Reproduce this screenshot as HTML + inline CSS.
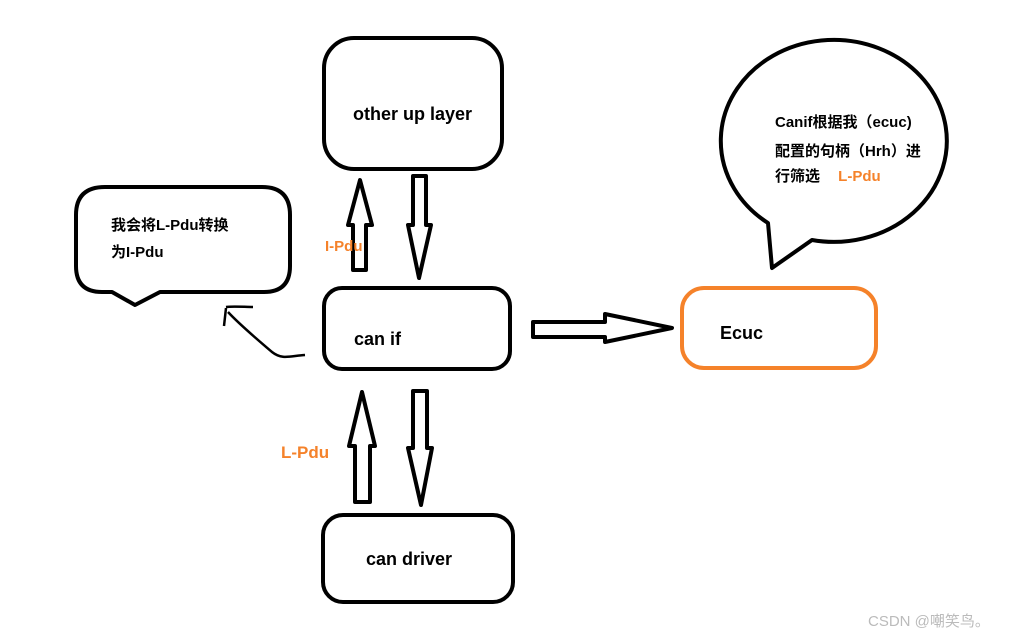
<!DOCTYPE html>
<html><head><meta charset="utf-8"><style>
html,body{margin:0;padding:0;background:#fff;width:1023px;height:637px;overflow:hidden}
svg{display:block}
text{font-family:"Liberation Sans","Noto Sans CJK SC",sans-serif;font-weight:bold}
</style></head><body>
<svg width="1023" height="637" viewBox="0 0 1023 637">
<g fill="none" stroke="#000" stroke-width="4" stroke-linejoin="round">
<rect x="324" y="38" width="178" height="131" rx="30"/>
<rect x="324" y="288" width="186" height="81" rx="18"/>
<rect x="323" y="515" width="190" height="87" rx="20"/>
<path d="M105,187 H262 Q290,187 290,215 V266 Q290,292 264,292 H160 L135,305 L112,292 H102 Q76,292 76,266 V215 Q76,187 105,187 Z"/>
<path d="M768,223 A113,101 0 1 1 812,240 L772,268 Z" fill="#fff"/>
<path d="M353,270 V225 H348 L360,180 L372,225 H366 V270 Z"/>
<path d="M413,176 H426 V225 H431 L419,278 L408,225 H413 Z"/>
<path d="M355,502 V446 H349 L362,392 L375,446 H370 V502 Z"/>
<path d="M413,391 H427 V448 H432 L421,505 L408,448 H413 Z"/>
<path d="M533,322 H605 V314 L672,328 L605,342 V337 H533 Z"/>
<path d="M305,355 C290,356 282,360 272,352 C258,340 240,325 228,312 M224,326 L226,308 M226,307 C233,306 245,307 253,307" stroke-width="2.5"/>
</g>
<rect x="682" y="288" width="194" height="80" rx="22" fill="none" stroke="#f5822a" stroke-width="4"/>
<g font-size="18" fill="#000">
<text x="353" y="120">other up layer</text>
<text x="354" y="345">can if</text>
<text x="366" y="565">can driver</text>
<text x="720" y="339">Ecuc</text>
</g>
<g font-size="15" fill="#000">
<text x="111" y="230">我会将L-Pdu转换</text>
<text x="111" y="257">为I-Pdu</text>
<text x="775" y="127">Canif根据我（ecuc)</text>
<text x="775" y="156">配置的句柄（Hrh）进</text>
<text x="775" y="181">行筛选 <tspan fill="#f5822a" dx="14">L-Pdu</tspan></text>
</g>
<text x="325" y="251" font-size="15" fill="#f5822a">I-Pdu</text>
<text x="281" y="458" font-size="17" fill="#f5822a">L-Pdu</text>
<text x="868" y="626" font-size="15" fill="#bbb" style="font-weight:normal">CSDN @嘲笑鸟。</text>
</svg>
</body></html>
